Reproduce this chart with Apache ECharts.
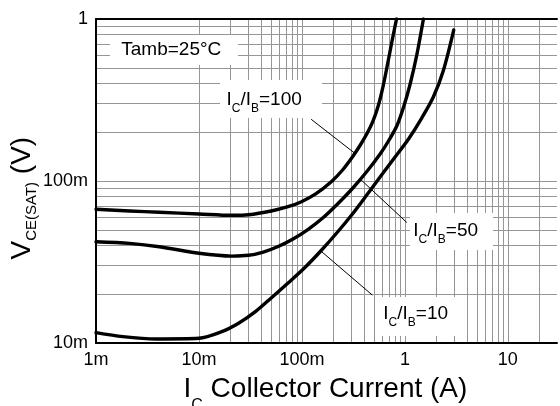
<!DOCTYPE html>
<html>
<head>
<meta charset="utf-8">
<script src="https://cdn.jsdelivr.net/npm/echarts@6/dist/echarts.min.js"></script>
<style>
html,body{margin:0;padding:0;background:#fff;}
#c{width:560px;height:406px;}
</style>
</head>
<body>
<div id="c"></div>
<script>
// ---- data ----
const ic100 = [0.001, 0.00212, 0.00412, 0.01, 0.0208, 0.0303, 0.0503, 0.0733, 0.0978, 0.136, 0.194, 0.248, 0.309, 0.369, 0.431, 0.492, 0.550, 0.6145, 0.679, 0.750, 0.829];
const vce100 = [0.0669, 0.0653, 0.0641, 0.0626, 0.0614, 0.0619, 0.0653, 0.0694, 0.0742, 0.0832, 0.0993, 0.1169, 0.1406, 0.1668, 0.1978, 0.2362, 0.2904, 0.3858, 0.5275, 0.7312, 1.0];

const ic50 = [0.001, 0.00212, 0.00412, 0.01, 0.0208, 0.0303, 0.04217, 0.05875, 0.08193, 0.1142, 0.1592, 0.2219, 0.3093, 0.4311, 0.579, 0.702, 0.838, 0.978, 1.125, 1.304, 1.513];
const vce50 = [0.0422, 0.0412, 0.0393, 0.0358, 0.0344, 0.03478, 0.03645, 0.03942, 0.04385, 0.05018, 0.05909, 0.07211, 0.08989, 0.1153, 0.1478, 0.1791, 0.2201, 0.2904, 0.3970, 0.5995, 1.0];

const ic10 = [0.001, 0.00182, 0.00386, 0.01, 0.01664, 0.02424, 0.0353, 0.0503, 0.0733, 0.1069, 0.1523, 0.2219, 0.3093, 0.4407, 0.6238, 0.838, 1.093, 1.457, 1.888, 2.355, 2.979];
const vce10 = [0.01158, 0.01094, 0.01059, 0.01069, 0.01174, 0.01323, 0.0156, 0.01896, 0.02346, 0.02924, 0.03697, 0.04843, 0.06257, 0.08432, 0.1136, 0.1457, 0.1830, 0.2448, 0.3300, 0.4775, 0.855];

const xTickValues = [0.001, 0.01, 0.1, 1, 10];
const xTickLabels = ['1m', '10m', '100m', '1', '10'];
const yTickValues = [0.01, 0.1, 1];
const yTickLabels = ['10m', '100m', '1'];

const xGridValues = [0.002,0.003,0.004,0.005,0.006,0.007,0.008,0.009,0.01,
  0.02,0.03,0.04,0.05,0.06,0.07,0.08,0.09,0.1,
  0.2,0.3,0.4,0.5,0.6,0.7,0.8,0.9,1,
  2,3,4,5,6,7,8,9,10,20];
const yGridValues = [0.02,0.03,0.04,0.05,0.06,0.07,0.08,0.09,0.1,
  0.2,0.3,0.4,0.5,0.6,0.7,0.8,0.9];

// leader lines: [label end, curve end] in data coordinates
const leader100 = [[0.1229, 0.2404], [0.3211, 0.1495]];
const leader50  = [[1.045, 0.0554], [0.3717, 0.1022]];
const leader10  = [[0.4817, 0.01978], [0.154, 0.0368]];

// ---- chart ----
const FONT = '"Liberation Sans", Arial, Helvetica, sans-serif';
const pick = (vals, labels) => v => {
  const i = vals.findIndex(t => Math.abs(v - t) < t * 1e-6);
  return i < 0 ? '' : labels[i];
};
const zip = (a, b) => a.map((v, i) => [v, b[i]]);

const chart = echarts.init(document.getElementById('c'), null, {renderer: 'canvas'});

const curveStyle = {color: '#000', width: 3.4, cap: 'round', join: 'round'};
const curve = (name, xs, ys) => ({
  name, type: 'line', data: zip(xs, ys), smooth: 0.3,
  showSymbol: false, symbol: 'none', lineStyle: curveStyle, itemStyle: {color: '#000'},
  z: 6, silent: true
});

function subLabel(main, sub1, main2, sub2, tail, x, top) {
  return {
    type: 'text', x: x, y: top, z: 11,
    style: {
      text: `{m|${main}}{s|${sub1}}{m|${main2}}{s|${sub2}}{m|${tail}}`,
      align: 'left', verticalAlign: 'top', textAlign: 'left', textVerticalAlign: 'top',
      fill: '#000',
      rich: {
        m: {fontSize: 19, fontFamily: FONT, lineHeight: 30, fill: '#000', color: '#000'},
        s: {fontSize: 12, fontFamily: FONT, lineHeight: 12, verticalAlign: 'bottom', fill: '#000', color: '#000'}
      }
    }
  };
}
const box = (x, y, w, h) => ({type: 'rect', z: 10, shape: {x, y, width: w, height: h}, style: {fill: '#fff'}});

const option = {
  animation: false,
  backgroundColor: '#fff',
  grid: {left: 96, top: 19, width: 465, height: 324, containLabel: false},
  xAxis: [{
    type: 'log', logBase: 10, min: 0.001, max: 30, z: 5,
    axisLine: {show: true, onZero: false, lineStyle: {color: '#000', width: 2}},
    axisTick: {show: false}, splitLine: {show: false},
    axisLabel: {formatter: pick(xTickValues, xTickLabels), fontSize: 18, fontFamily: FONT, color: '#000', margin: 8}
  }, {
    type: 'log', logBase: 10, min: 0.001, max: 30, position: 'top', z: 5,
    axisLine: {show: true, onZero: false, lineStyle: {color: '#000', width: 2}},
    axisTick: {show: false}, splitLine: {show: false}, axisLabel: {show: false}
  }],
  yAxis: {
    type: 'log', logBase: 10, min: 0.01, max: 1, z: 5,
    axisLine: {show: true, onZero: false, lineStyle: {color: '#000', width: 2}},
    axisTick: {show: false}, splitLine: {show: false},
    axisLabel: {formatter: pick(yTickValues, yTickLabels), fontSize: 18, fontFamily: FONT, color: '#000', margin: 8}
  },
  series: [
    {
      name: 'grid', type: 'line', data: [[0.001, 0.01]], showSymbol: false, symbol: 'none',
      lineStyle: {width: 0, opacity: 0}, z: 1, silent: true,
      markLine: {
        z: 1,
        silent: true, symbol: ['none', 'none'], label: {show: false},
        emphasis: {disabled: true},
        lineStyle: {color: '#969696', width: 1, type: 'solid'},
        data: xGridValues.map(v => ({xAxis: v})).concat(yGridValues.map(v => ({yAxis: v})))
      }
    },
    {
      name: 'leaders', type: 'line', data: [[0.001, 0.01]], showSymbol: false, symbol: 'none',
      lineStyle: {width: 0, opacity: 0}, z: 3, silent: true,
      markLine: {
        z: 3,
        silent: true, symbol: ['none', 'none'], label: {show: false},
        emphasis: {disabled: true},
        lineStyle: {color: '#000', width: 1, type: 'solid'},
        data: [leader100, leader50, leader10].map(l => [{coord: l[0]}, {coord: l[1]}])
      }
    },
    curve('IC/IB=100', ic100, vce100),
    curve('IC/IB=50', ic50, vce50),
    curve('IC/IB=10', ic10, vce10)
  ],
  graphic: [
    box(110, 35, 128, 30),
    {type: 'text', x: 121.3, y: 50.1, z: 11,
      style: {text: 'Tamb=25°C', fontSize: 19, fontFamily: FONT, fill: '#000',
        align: 'left', verticalAlign: 'middle', textAlign: 'left', textVerticalAlign: 'middle'}},
    box(220, 80, 102, 38),
    subLabel('I', 'C', '/I', 'B', '=100', 226.5, 85.1),
    box(410, 213, 83, 37),
    subLabel('I', 'C', '/I', 'B', '=50', 413.3, 215.7),
    box(377, 297, 80, 39),
    subLabel('I', 'C', '/I', 'B', '=10', 383.3, 298.4),
    // x-axis title
    {type: 'text', x: 183.5, y: 363.8, z: 11,
      style: {
        text: '{m|I}{s|C}{m| Collector Current (A)}',
        align: 'left', verticalAlign: 'top', textAlign: 'left', textVerticalAlign: 'top', fill: '#000',
        rich: {
          m: {fontSize: 28, fontFamily: FONT, lineHeight: 50, fill: '#000', color: '#000'},
          s: {fontSize: 16, fontFamily: FONT, lineHeight: 16, verticalAlign: 'bottom', fill: '#000', color: '#000'}
        }
      }},
    // y-axis title
    {type: 'text', x: 5, y: 259.5, rotation: Math.PI / 2, z: 11,
      style: {
        text: '{m|V}{s|CE(SAT)}{m| (V)}',
        align: 'left', verticalAlign: 'top', textAlign: 'left', textVerticalAlign: 'top', fill: '#000',
        rich: {
          m: {fontSize: 28, fontFamily: FONT, lineHeight: 34, fill: '#000', color: '#000'},
          s: {fontSize: 15, fontFamily: FONT, lineHeight: 15, verticalAlign: 'bottom', fill: '#000', color: '#000'}
        }
      }}
  ]
};
chart.setOption(option);
</script>
</body>
</html>
